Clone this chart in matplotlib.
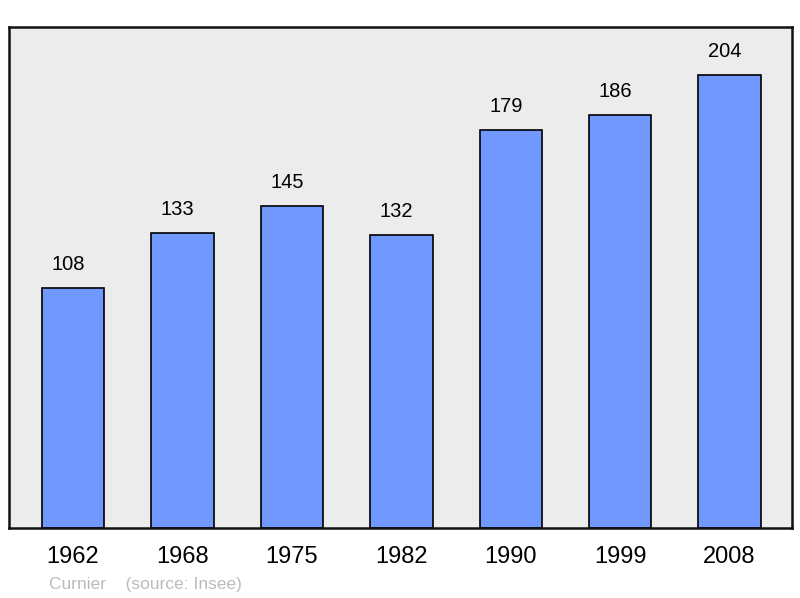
import matplotlib.pyplot as plt

plt.rcParams['font.family'] = ['Liberation Sans', 'DejaVu Sans']

# Population data
years = ['1962', '1968', '1975', '1982', '1990', '1999', '2008']
population = [108, 133, 145, 132, 179, 186, 204]

fig = plt.figure(figsize=(8, 5.98), dpi=100)
ax = fig.add_axes([9 / 800, 70 / 598, 783 / 800, 501 / 598])
ax.set_facecolor('#ececec')

x = range(len(years))
ax.bar(x, population, width=0.57, color='#7098ff', edgecolor='black', linewidth=1.2, zorder=2)

for xi, v in zip(x, population):
    ax.annotate(str(v), (xi, v), xytext=(-3.6, 10), textcoords='offset points',
                ha='center', va='bottom', fontsize=14.5, color='black')

ax.set_xlim(-0.585, 6.57)
ax.set_ylim(0, 225.5)
ax.set_yticks([])
ax.set_xticks(list(x))
ax.set_xticklabels(years, fontsize=17)
ax.tick_params(axis='x', length=0, pad=13)

for s in ax.spines.values():
    s.set_linewidth(1.8)
    s.set_color('#111111')

fig.text(49 / 800, 1 - 584 / 598, 'Curnier    (source: Insee)', fontsize=12.5,
         color='#bbbbbb', ha='left', va='center')

fig.savefig('out.png', dpi=100)
